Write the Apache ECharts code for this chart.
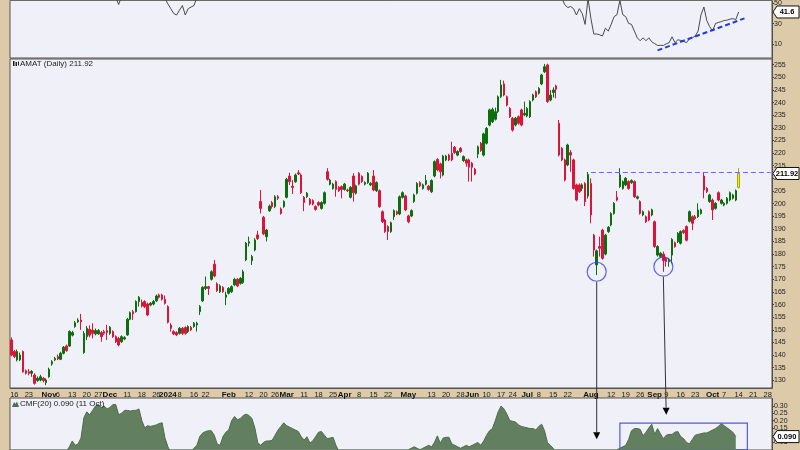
<!DOCTYPE html>
<html><head><meta charset="utf-8">
<script src="https://cdn.jsdelivr.net/npm/echarts@6/dist/echarts.min.js"></script>
<style>html,body{margin:0;padding:0;background:#dccaa9;}#c{width:800px;height:450px;}</style>
</head><body><div id="c"></div>
<script>
// ---------- DATA ----------
const startDate = '2023-10-13';
const categoryCount = 263; // trading days shown on the axis (incl. empty future space)
const holidays = ['2023-11-23','2023-12-25','2024-01-01','2024-01-15','2024-02-19','2024-03-29','2024-05-27','2024-06-19','2024-07-04','2024-09-02'];

const tickDates = ['2023-10-16','2023-10-23','2023-11-01','2023-11-06','2023-11-13','2023-11-20','2023-11-27','2023-12-01','2023-12-11','2023-12-18','2023-12-26','2024-01-02','2024-01-08','2024-01-16','2024-01-22','2024-02-01','2024-02-12','2024-02-20','2024-02-26','2024-03-01','2024-03-11','2024-03-18','2024-03-25','2024-04-01','2024-04-08','2024-04-15','2024-04-22','2024-05-01','2024-05-13','2024-05-20','2024-05-28','2024-06-03','2024-06-10','2024-06-17','2024-06-24','2024-07-01','2024-07-08','2024-07-15','2024-07-22','2024-08-01','2024-08-12','2024-08-19','2024-08-26','2024-09-03','2024-09-09','2024-09-16','2024-09-23','2024-10-01','2024-10-07','2024-10-14','2024-10-21','2024-10-28'];
const tickTexts = ['16','23','Nov','6','13','20','27','Dec','11','18','26','2024','8','16','22','Feb','12','20','26','Mar','11','18','25','Apr','8','15','22','May','13','20','28','Jun','10','17','24','Jul','8','15','22','Aug','12','19','26','Sep','9','16','23','Oct','7','14','21','28'];
const boldTicks = ['Nov','Dec','2024','Feb','Mar','Apr','May','Jun','Jul','Aug','Sep','Oct'];

const priceOpen = [146.0,141.4,138.1,138.1,141.4,133.8,133.4,132.8,132.1,129.9,
130.1,130.8,129.1,131.4,136.5,138.1,139.4,138.3,140.7,143.6,
143.6,147.9,151.3,153.2,153.9,141.0,147.3,150.2,149.9,148.4,
148.4,148.9,149.3,149.7,148.6,149.3,147.3,146.6,145.3,146.4,
148.0,154.2,157.2,157.2,161.2,160.8,161.2,160.2,159.8,160.2,
161.5,163.8,163.8,162.1,159.2,151.9,149.3,148.9,148.6,150.6,
150.9,149.3,151.0,151.3,151.9,157.2,161.5,166.4,167.1,170.0,
176.0,168.2,165.1,166.8,162.9,164.5,165.1,167.8,170.0,168.4,
168.7,177.7,184.3,177.4,181.6,187.6,200.8,194.6,186.9,197.2,
200.4,198.8,202.7,197.9,198.8,202.5,210.9,206.9,208.7,212.2,
211.3,202.5,202.7,201.7,201.2,198.8,200.4,198.1,200.1,212.6,
207.7,206.0,208.7,206.4,206.7,205.6,205.4,202.5,210.9,204.1,
212.0,210.7,207.7,208.3,207.4,210.9,205.1,205.1,196.8,193.5,
190.9,188.9,194.8,196.8,195.9,202.5,203.0,195.1,195.1,200.8,
204.1,208.3,206.0,207.7,206.9,204.7,210.9,217.5,215.7,211.3,
217.3,219.2,219.9,222.3,219.2,221.9,217.0,217.3,217.3,216.0,
213.6,219.6,223.9,219.2,223.9,231.1,232.4,233.4,236.4,242.3,
247.4,242.3,237.7,233.8,231.1,234.4,237.1,235.1,234.7,234.4,
241.0,244.3,243.7,247.4,252.2,254.9,241.0,244.0,246.6,231.8,
221.9,217.3,215.3,220.2,217.3,207.4,207.4,206.0,208.0,203.0,
208.0,187.5,175.7,183.0,189.5,180.0,188.9,191.5,196.1,202.5,
206.7,206.0,207.4,208.7,208.3,208.7,202.1,200.8,195.5,194.8,
196.8,195.5,192.8,179.6,179.0,180.0,178.3,177.0,179.6,184.5,
184.9,184.3,189.3,190.9,193.0,194.8,194.8,194.8,196.1,210.9,
206.0,200.8,201.4,198.1,204.3,200.1,199.4,200.1,201.4,202.1,
201.4,206.4];
const priceClose = [140.0,139.4,141.4,140.0,133.4,132.8,132.8,133.5,128.8,130.8,
131.4,129.9,130.1,134.4,137.4,138.7,138.5,140.7,143.1,141.8,
149.3,148.9,152.8,153.9,153.2,148.5,150.6,147.9,148.6,149.7,
149.7,147.3,148.6,148.9,151.0,147.3,145.3,144.0,147.3,146.9,
154.2,156.8,156.3,161.2,162.9,159.4,159.2,155.9,160.5,161.2,
163.4,162.9,162.1,160.5,153.0,150.6,148.4,148.0,150.6,148.6,
148.6,151.3,150.0,152.6,152.6,159.2,166.8,167.1,166.4,173.0,
171.3,165.5,167.4,165.1,163.8,166.4,167.1,170.0,167.4,170.4,
173.0,184.3,184.9,179.0,185.6,186.2,198.1,188.0,189.5,199.0,
198.8,202.7,202.1,196.1,200.8,209.6,208.7,206.4,211.3,211.7,
204.3,200.4,204.1,199.8,199.8,197.7,199.4,200.4,204.3,209.6,
209.3,207.7,205.6,205.1,205.6,207.7,205.1,206.4,204.3,207.0,
207.7,208.7,208.3,212.0,208.0,205.4,208.3,198.8,192.8,188.9,
188.9,192.4,197.2,195.9,202.7,204.3,197.5,192.8,197.2,203.4,
208.0,207.0,207.4,209.1,205.6,209.1,216.6,213.3,212.6,218.8,
218.8,217.3,217.3,220.2,220.6,220.6,218.6,216.0,214.4,214.4,
211.7,222.5,221.0,227.6,229.8,237.1,237.3,236.4,242.3,247.0,
243.0,239.0,234.4,229.1,233.8,231.8,231.1,235.7,237.7,240.4,
243.0,242.3,245.6,250.9,254.2,240.4,243.0,245.0,245.3,219.2,
217.3,209.3,223.2,219.2,206.0,201.4,204.7,207.4,200.8,211.5,
195.5,181.6,181.3,182.3,178.3,187.5,190.6,196.1,200.1,201.4,
211.3,208.7,210.0,206.0,209.1,202.7,202.7,196.1,196.8,192.8,
193.5,197.5,183.0,183.0,180.3,177.4,177.0,177.6,185.8,183.0,
188.2,188.9,188.5,185.5,196.8,192.2,194.1,197.5,197.5,205.4,
204.7,203.4,197.5,200.1,201.4,201.4,200.1,202.1,204.3,203.4,
205.1,211.92];
const priceLow = [139.5,138.8,137.5,137.6,133.0,132.3,132.0,131.4,128.3,129.4,
129.6,129.2,128.1,131.0,135.8,137.6,138.0,138.0,140.3,141.3,
143.2,147.4,150.8,152.7,150.0,140.5,146.0,147.0,146.6,147.8,
148.0,145.3,148.0,146.0,148.0,146.8,144.8,143.5,144.8,145.9,
147.6,153.8,153.9,156.8,159.2,158.9,158.6,155.4,159.3,159.7,
161.0,162.4,161.6,160.0,152.5,149.3,147.9,147.5,148.1,148.0,
148.1,148.8,149.5,150.8,149.3,155.9,161.0,165.8,163.8,169.5,
170.8,165.0,164.6,164.6,159.8,164.0,164.6,167.3,166.9,167.9,
168.2,177.2,183.0,175.7,181.1,185.6,196.1,187.5,185.0,196.7,
198.0,198.2,201.4,195.6,198.3,202.0,207.4,203.8,208.2,211.3,
203.8,197.0,202.2,199.3,199.3,197.2,198.9,197.6,199.6,209.1,
207.2,205.5,202.7,204.6,202.1,205.1,204.6,202.0,200.8,203.6,
207.2,208.2,207.2,207.8,206.9,204.9,204.6,198.3,192.3,188.4,
185.6,188.4,193.5,195.4,195.4,202.0,197.0,192.2,194.6,200.3,
203.6,206.5,205.5,207.2,205.1,204.2,210.4,212.8,210.0,210.8,
216.8,216.8,216.8,219.7,218.7,220.1,216.5,214.6,208.7,208.7,
211.2,218.0,220.5,218.7,223.4,230.6,231.9,232.9,235.9,241.8,
242.5,238.5,233.9,228.5,230.6,231.3,230.6,234.6,234.2,233.9,
240.5,241.8,243.2,246.9,251.7,239.9,240.5,242.0,241.7,218.7,
216.8,208.8,214.8,212.6,205.5,200.9,204.2,205.0,199.0,202.0,
192.2,179.0,171.7,179.0,177.8,179.5,188.4,191.0,195.6,200.9,
206.2,205.5,206.9,205.5,207.8,202.2,201.6,195.6,195.0,192.3,
193.0,195.0,182.5,179.0,178.5,173.0,175.0,175.0,176.3,182.5,
184.4,183.8,188.0,185.0,192.5,189.5,193.5,194.3,195.6,202.1,
204.2,200.3,193.5,197.6,200.9,199.6,198.9,199.6,200.9,201.6,
200.9,206.0];
const priceHigh = [147.0,142.0,142.2,141.0,141.8,134.3,134.5,134.1,132.8,131.5,
132.2,131.3,130.8,135.0,138.0,139.3,140.2,141.3,143.6,144.2,
149.8,149.6,153.5,154.6,156.3,149.5,151.5,151.8,152.6,150.5,
150.3,149.5,150.0,152.0,151.5,149.8,147.8,147.2,147.8,147.5,
154.7,157.3,157.9,161.7,163.4,162.0,161.7,160.8,161.0,161.8,
164.0,164.3,164.3,163.6,159.7,152.6,149.8,149.4,151.1,151.1,
151.4,151.8,151.5,153.1,153.2,159.8,167.3,171.1,167.4,173.6,
177.7,168.8,168.0,167.3,165.1,166.9,167.6,170.6,170.5,170.9,
173.8,184.8,186.9,179.7,186.3,189.2,205.4,195.1,190.0,199.6,
201.0,203.3,203.4,198.5,201.3,210.2,212.2,209.3,211.9,213.3,
211.9,203.0,204.6,202.2,201.7,199.3,200.9,200.9,204.8,214.0,
209.8,208.2,209.2,206.9,207.2,208.2,205.9,206.9,212.0,207.5,
212.5,211.2,208.8,212.5,208.5,213.3,208.8,205.6,197.3,194.0,
191.4,192.9,197.7,197.3,203.2,204.8,203.5,195.6,197.7,203.9,
208.5,208.8,207.9,211.3,207.4,209.6,217.1,218.0,216.2,219.3,
219.3,219.7,224.5,222.8,221.1,222.4,219.1,217.8,217.8,216.5,
214.1,223.0,224.4,228.1,230.3,237.6,238.0,238.0,242.8,249.0,
248.7,242.8,238.2,234.3,234.3,234.9,237.6,240.4,238.2,240.9,
243.5,244.8,246.1,251.4,255.3,255.4,245.0,246.0,247.1,233.1,
222.4,217.8,223.7,221.2,217.8,207.9,208.0,208.0,208.5,212.5,
210.0,188.0,181.8,186.9,190.0,188.0,191.1,196.6,200.6,205.0,
214.0,209.2,210.5,209.2,209.6,209.2,203.2,201.3,197.3,195.3,
197.3,198.0,193.3,183.5,180.8,181.0,179.0,178.5,186.3,185.0,
188.7,189.4,189.8,191.4,197.3,195.3,195.5,200.1,198.0,212.2,
206.5,203.9,202.0,200.6,204.8,201.9,200.6,202.6,204.8,203.9,
205.6,214.0];

// upper indicator panel (line)
const upperValues = [62,66,70,68,73,75,72,70,74,76,
71,68,65,70,74,78,80,77,75,79,
82,80,84,81,78,76,72,70,66,69,
73,70,66,62,60,58,56,49,57,62,
68,72,75,73,70,67,64,62,66,63,
60,58,56,55,49.6,44.9,40.1,38.6,43.3,48.0,
38.6,44.9,46.5,48.0,56,62,68,72,70,74,
71,66,63,60,62,65,68,72,70,74,
78,82,80,76,79,84,88,85,82,86,
83,80,82,78,75,79,83,80,78,76,
72,68,65,63,60,62,66,70,74,78,
75,72,70,68,66,64,62,60,63,66,
69,67,65,68,66,63,60,57,58,60,
62,65,68,66,70,73,70,66,68,72,
75,73,70,68,66,70,74,72,70,74,
76,78,75,73,70,68,65,63,61,60,
62,66,70,74,77,80,82,84,86,88,
85,82,78,75,73,70,68,70,72,75,
78,80,82,85,88,80,74,70,66,60,
55,48.7,46,47,44.9,38.6,44.9,40.1,29.3,55,
35,19.8,19.8,19,17.9,25.5,22.7,29.3,37,38.9,
53,38.9,37,30.3,29.3,22.7,16,13.1,16,13.1,
16,12,10.3,8.4,8.6,8.4,10,11.2,17,11.2,
14,13.5,12.5,11.2,15,16,17.9,22.7,38.9,46.5,
33,27,22.7,30.3,31.2,32,33.1,33.5,34.5,35,
34.1,41.6];
const upperTrend = [[223, 3.6], [253, 35.3]];

// CMF(20)
const cmfValues = [-0.05,-0.08,-0.10,-0.12,-0.15,-0.18,-0.20,-0.22,-0.25,-0.24,
-0.22,-0.20,-0.18,-0.15,-0.12,-0.10,-0.08,-0.05,-0.03,-0.01,
0.02,0.06,0.03,0.04,0.08,0.22,0.26,0.24,0.27,0.30,
0.31,0.29,0.30,0.28,0.29,0.31,0.31,0.24,0.25,0.27,
0.27,0.265,0.27,0.27,0.28,0.20,0.15,0.165,0.16,0.165,
0.17,0.18,0.185,0.08,0.02,-0.02,-0.05,-0.08,-0.10,-0.09,
-0.07,-0.05,-0.02,0.01,0.03,0.09,0.115,0.125,0.13,0.13,
0.10,0.04,0.03,0.09,0.12,0.135,0.20,0.228,0.205,0.215,
0.235,0.244,0.235,0.214,0.15,0.05,0.03,0.05,0.06,0.06,
0.065,0.10,0.135,0.16,0.185,0.165,0.155,0.145,0.135,0.125,
0.09,0.066,0.089,0.046,0.06,0.09,0.12,0.125,0.10,0.076,
0.08,0.085,0.03,-0.01,-0.04,-0.06,-0.08,-0.10,-0.12,-0.11,
-0.09,-0.07,-0.05,-0.03,-0.02,-0.04,-0.06,-0.09,-0.12,-0.15,
-0.14,-0.12,-0.10,-0.08,-0.06,-0.04,-0.02,0.00,0.01,0.02,
0.01,0.00,0.01,0.02,0.03,0.02,0.05,0.095,0.045,0.08,
0.085,0.085,0.04,0.03,0.02,0.01,0.02,0.03,0.02,0.03,
0.04,0.05,0.03,0.06,0.10,0.13,0.145,0.20,0.26,0.30,
0.28,0.244,0.20,0.195,0.19,0.17,0.16,0.155,0.15,0.145,
0.145,0.135,0.16,0.175,0.13,0.05,0.03,0.01,-0.02,-0.05,
-0.08,-0.10,-0.12,-0.15,-0.18,-0.20,-0.22,-0.24,-0.25,-0.23,
-0.20,-0.18,-0.15,-0.12,-0.10,-0.08,-0.06,-0.04,-0.02,0.00,
0.01,0.02,0.03,0.07,0.13,0.145,0.145,0.14,0.095,0.12,
0.15,0.175,0.105,0.145,0.11,0.076,0.10,0.105,0.105,0.12,
0.125,0.09,0.076,0.05,0.04,0.07,0.10,0.105,0.11,0.115,
0.115,0.125,0.135,0.145,0.16,0.18,0.165,0.15,0.135,0.12,
0.09,null];

// annotations (in data coordinates)
const resistanceLevel = 212.5;
const resistanceFrom = 200;
const circlePoints = [[202, 173.0], [225, 175.0]];
const arrowStarts = [[202, 169.0], [225, 171.0]];
const arrowEnds = [[202, 0.072], [226, 0.24]];
const cmfBox = [[210, 0.183], [254, 0]];
const lastLabels = {upper: '41.6', price: '211.92', cmf: '0.090'};
const lastValues = {upper: 41.6, price: 211.92, cmf: 0.09};

// ---------- BUILD ----------
function buildTradingDays(start, count, hol) {
  const out = [], hs = new Set(hol);
  const d = new Date(start + 'T00:00:00Z');
  while (out.length < count) {
    const dow = d.getUTCDay(), iso = d.toISOString().slice(0, 10);
    if (dow !== 0 && dow !== 6 && !hs.has(iso)) out.push(iso);
    d.setUTCDate(d.getUTCDate() + 1);
  }
  return out;
}
const categories = buildTradingDays(startDate, categoryCount, holidays);
const tickMap = {};
tickDates.forEach((d, i) => tickMap[d] = tickTexts[i]);

const candleData = priceOpen.map((o, i) => {
  const v = [o, priceClose[i], priceLow[i], priceHigh[i]];
  if (i === priceOpen.length - 1) {
    return {value: v, itemStyle: {color: '#ecec1a', color0: '#ecec1a', borderColor: '#a9a900', borderColor0: '#a9a900'}};
  }
  return v;
});

const FONT = 'Liberation Sans, Arial, sans-serif';
const L = 10, R = 28;
const bg = '#eff0f8';

const chart = echarts.init(document.getElementById('c'), null, {renderer: 'canvas'});

function rightAxis(gridIndex, min, max, values, fmt) {
  return {
    type: 'value', gridIndex, position: 'right', min, max, scale: true,
    splitLine: {show: false},
    axisLine: {show: true, lineStyle: {color: '#444', type: 'dotted'}},
    axisTick: {show: true, length: 2, lineStyle: {color: '#444'}, customValues: values},
    axisLabel: {show: true, fontSize: 7, color: '#222', fontFamily: FONT, margin: 2, customValues: values, formatter: fmt}
  };
}
function catAxis(gridIndex, showLabels) {
  return {
    type: 'category', gridIndex, data: categories, boundaryGap: true,
    axisLine: {show: showLabels, lineStyle: {color: '#555'}},
    axisTick: {show: false},
    splitLine: {show: false},
    axisLabel: showLabels ? {
      show: true, interval: (idx, val) => tickMap[val] !== undefined,
      formatter: (val) => {
        const t = tickMap[val];
        if (t === undefined) return '';
        return boldTicks.includes(t) ? '{b|' + t + '}' : '{n|' + t + '}';
      },
      rich: {
        b: {fontWeight: 'bold', fontSize: 8, color: '#111', fontFamily: FONT},
        n: {fontSize: 7.5, color: '#222', fontFamily: FONT}
      },
      margin: 3, hideOverlap: false
    } : {show: false}
  };
}

const priceTicks = [];
for (let v = 130; v <= 255; v += 5) priceTicks.push(v);

chart.setOption({
  animation: false,
  backgroundColor: '#dccaa9',
  grid: [
    {left: L, right: R, top: -2, height: 60, show: true, backgroundColor: bg, borderColor: '#555', borderWidth: 1},
    {left: L, right: R, top: 59, height: 329, show: true, backgroundColor: bg, borderColor: '#555', borderWidth: 1},
    {left: L, right: R, top: 398, height: 60, show: true, backgroundColor: bg, borderColor: '#555', borderWidth: 1}
  ],
  xAxis: [catAxis(0, false), catAxis(1, true), catAxis(2, false)],
  yAxis: [
    rightAxis(0, -4, 53.1, [10, 30, 50], v => String(v)),
    rightAxis(1, 126.96, 257.26, priceTicks, v => String(v)),
    rightAxis(2, -0.002, 0.355, [0.05, 0.10, 0.15, 0.20, 0.25, 0.30], v => v.toFixed(2))
  ],
  series: [
    {
      type: 'line', xAxisIndex: 0, yAxisIndex: 0, data: upperValues, showSymbol: false,
      lineStyle: {color: '#4a4a4a', width: 1}, clip: true, z: 3,
      markLine: {
        silent: true, symbol: 'none', label: {show: false},
        lineStyle: {color: '#2438e8', width: 2, type: [5, 3]},
        data: [[{coord: upperTrend[0]}, {coord: upperTrend[1]}]]
      }
    },
    {
      type: 'candlestick', xAxisIndex: 1, yAxisIndex: 1, data: candleData, barWidth: 2,
      itemStyle: {color: '#0c6e0c', color0: '#dc143c', borderColor: '#0c6e0c', borderColor0: '#dc143c', borderWidth: 1},
      markLine: {
        silent: true, symbol: 'none', label: {show: false},
        lineStyle: {color: '#6b6bf5', width: 1.2, type: [5, 3]},
        data: [[{coord: [resistanceFrom, resistanceLevel]}, {coord: [categoryCount - 1, resistanceLevel]}]]
      }
    },
    {
      type: 'scatter', xAxisIndex: 1, yAxisIndex: 1, data: circlePoints, symbol: 'circle', symbolSize: 19,
      itemStyle: {color: 'rgba(0,0,0,0)', borderColor: '#3f3ff0', borderWidth: 1.2}, z: 5, silent: true
    },
    {
      type: 'line', xAxisIndex: 2, yAxisIndex: 2, data: cmfValues, showSymbol: false, clip: true,
      lineStyle: {color: '#4f6c4c', width: 1}, areaStyle: {color: '#62805f', opacity: 1},
      markArea: {
        silent: true, label: {show: false},
        itemStyle: {color: 'rgba(0,0,0,0)', borderColor: '#5656f2', borderWidth: 1.2},
        data: [[{coord: cmfBox[0]}, {coord: cmfBox[1]}]]
      }
    }
  ]
});

// ---------- overlay graphics (positions derived from data through the chart's scales) ----------
const g = [];
function valueBox(y, text) {
  const x0 = 773;
  g.push({type: 'polygon', z: 100, shape: {points: [[x0, y], [x0 + 4, y - 6], [799, y - 6], [799, y + 6], [x0 + 4, y + 6]]},
    style: {fill: '#ffffff', stroke: '#111', lineWidth: 1}});
  g.push({type: 'text', z: 101, x: 787, y: y, style: {text, fill: '#000', font: 'bold 7.5px ' + FONT, align: 'center', verticalAlign: 'middle'}});
}
valueBox(chart.convertToPixel({gridIndex: 0}, [0, lastValues.upper])[1], lastLabels.upper);
valueBox(chart.convertToPixel({gridIndex: 1}, [0, lastValues.price])[1], lastLabels.price);
valueBox(chart.convertToPixel({gridIndex: 2}, [0, lastValues.cmf])[1], lastLabels.cmf);

// arrows from the circled lows down to the CMF panel
arrowStarts.forEach((s, i) => {
  const p0 = chart.convertToPixel({gridIndex: 1}, s);
  const p1 = chart.convertToPixel({gridIndex: 2}, arrowEnds[i]);
  const dx = p1[0] - p0[0], dy = p1[1] - p0[1], len = Math.sqrt(dx * dx + dy * dy);
  const ux = dx / len, uy = dy / len, h = 7, w = 3.5;
  const bx = p1[0] - ux * h, by = p1[1] - uy * h;
  g.push({type: 'line', z: 90, shape: {x1: p0[0], y1: p0[1], x2: bx, y2: by}, style: {stroke: '#333', lineWidth: 1}});
  g.push({type: 'polygon', z: 90, shape: {points: [[p1[0], p1[1]], [bx - uy * w, by + ux * w], [bx + uy * w, by - ux * w]]}, style: {fill: '#000'}});
});

// panel titles
g.push({type: 'rect', z: 100, shape: {x: 13, y: 61, width: 1.5, height: 5}, style: {fill: '#222'}});
g.push({type: 'rect', z: 100, shape: {x: 15.5, y: 62, width: 1.5, height: 4}, style: {fill: '#222'}});
g.push({type: 'rect', z: 100, shape: {x: 18, y: 61.5, width: 1, height: 4}, style: {fill: '#222'}});
g.push({type: 'text', z: 100, x: 20, y: 64, style: {text: 'AMAT (Daily) 211.92', fill: '#222', font: '8px ' + FONT, verticalAlign: 'middle'}});
g.push({type: 'polygon', z: 100, shape: {points: [[12, 407], [14, 402], [15.5, 404], [17, 401.5], [19, 407]]}, style: {fill: '#4f6c4c'}});
g.push({type: 'text', z: 100, x: 20, y: 404, style: {text: 'CMF(20) 0.090 (11 Oct)', fill: '#222', font: '8px ' + FONT, verticalAlign: 'middle'}});

chart.setOption({graphic: {elements: g}});
</script></body></html>
